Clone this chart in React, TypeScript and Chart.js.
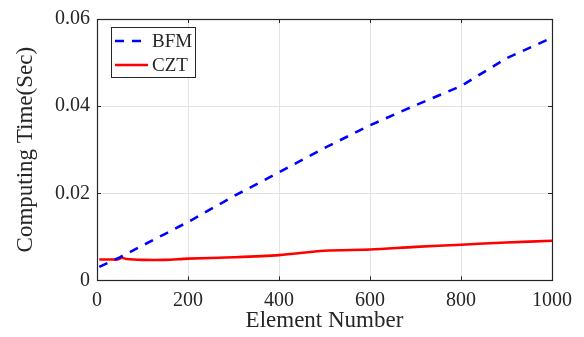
import { useEffect, useRef } from 'react';
import { Chart, registerables } from 'chart.js';

Chart.register(...registerables);

const bfmElements = [5, 50, 100, 150, 200, 300, 400, 500, 600, 700, 800, 900, 1000];
const bfmTimes = [0.0031, 0.0053, 0.0080, 0.0107, 0.0134, 0.0193, 0.0248, 0.0304, 0.0356, 0.0402, 0.0446, 0.0510, 0.0557];
const cztElements = [5, 30, 45, 55, 65, 100, 150, 200, 300, 400, 500, 600, 700, 800, 900, 1000];
const cztTimes = [0.0048, 0.0048, 0.0048, 0.0052, 0.0049, 0.0047, 0.0047, 0.0050, 0.0053, 0.0058, 0.0068, 0.0071, 0.0077, 0.0082, 0.0087, 0.0091];
const xTicks = [0, 200, 400, 600, 800, 1000];
const yTicks = [0, 0.02, 0.04, 0.06];
const seriesLabels = ['BFM', 'CZT'];
const xTitle = 'Element Number';
const yTitle = 'Computing Time(Sec)';

const FONT = '"Liberation Serif", "Times New Roman", serif';
const TEXT = '#262626';

const framePlugin = {
  id: 'frameAndLegend',
  afterDraw(chart: any) {
    const { ctx, chartArea } = chart;
    const { left, right, top, bottom } = chartArea;
    ctx.save();
    // inner ticks
    ctx.strokeStyle = TEXT;
    ctx.lineWidth = 1;
    const xs = chart.scales.x;
    const ys = chart.scales.y;
    ctx.beginPath();
    xTicks.forEach((v) => {
      const px = Math.round(xs.getPixelForValue(v)) + 0.5;
      ctx.moveTo(px, bottom);
      ctx.lineTo(px, bottom - 4);
      ctx.moveTo(px, top);
      ctx.lineTo(px, top + 4);
    });
    yTicks.forEach((v) => {
      const py = Math.round(ys.getPixelForValue(v)) + 0.5;
      ctx.moveTo(left, py);
      ctx.lineTo(left + 4, py);
      ctx.moveTo(right, py);
      ctx.lineTo(right - 4, py);
    });
    ctx.stroke();
    // frame
    ctx.strokeStyle = TEXT;
    ctx.lineWidth = 1.2;
    ctx.strokeRect(Math.round(left) + 0.5, Math.round(top) + 0.5, Math.round(right - left), Math.round(bottom - top));

    // legend
    const bx = left + 14;
    const by = top + 8;
    const bw = 84;
    const bh = 50;
    ctx.fillStyle = '#ffffff';
    ctx.fillRect(bx, by, bw, bh);
    ctx.strokeStyle = TEXT;
    ctx.lineWidth = 1;
    ctx.strokeRect(Math.round(bx) + 0.5, Math.round(by) + 0.5, bw, bh);
    ctx.font = `19px ${FONT}`;
    ctx.textBaseline = 'middle';
    ctx.textAlign = 'left';
    chart.data.datasets.forEach((ds: any, i: number) => {
      const ly = by + 14 + i * 24;
      ctx.strokeStyle = ds.borderColor;
      ctx.lineWidth = ds.borderWidth;
      ctx.setLineDash(ds.borderDash || []);
      ctx.beginPath();
      ctx.moveTo(bx + 4, ly);
      ctx.lineTo(bx + 37, ly);
      ctx.stroke();
      ctx.setLineDash([]);
      ctx.fillStyle = TEXT;
      ctx.fillText(ds.label, bx + 41, ly + 1);
    });
    ctx.restore();
  },
};

export default function App() {
  const canvasRef = useRef<HTMLCanvasElement | null>(null);

  useEffect(() => {
    const canvas = canvasRef.current;
    if (!canvas) return;
    const chart = new Chart(canvas, {
      type: 'line',
      data: {
        datasets: [
          {
            label: seriesLabels[0],
            data: bfmElements.map((x, i) => ({ x, y: bfmTimes[i] })),
            borderColor: '#0000ff',
            borderWidth: 2.6,
            borderDash: [9, 8],
            pointRadius: 0,
            fill: false,
            tension: 0,
          },
          {
            label: seriesLabels[1],
            data: cztElements.map((x, i) => ({ x, y: cztTimes[i] })),
            borderColor: '#ff0000',
            borderWidth: 2.6,
            pointRadius: 0,
            fill: false,
            tension: 0.3,
          },
        ],
      },
      options: {
        animation: false,
        responsive: false,
        devicePixelRatio: 1,
        layout: { padding: { left: 0, right: 32, top: 16, bottom: 0 } },
        plugins: { legend: { display: false }, tooltip: { enabled: false } },
        scales: {
          x: {
            type: 'linear',
            min: 0,
            max: 1000,
            afterBuildTicks: (s: any) => {
              s.ticks = xTicks.map((value) => ({ value }));
            },
            afterFit: (s: any) => {
              s.height = 56.6;
            },
            grid: { color: '#e3e3e3', drawTicks: false, lineWidth: 1 },
            border: { display: false },
            ticks: {
              padding: 8,
              color: TEXT,
              font: { family: FONT, size: 20 },
              maxRotation: 0,
              callback: (v: any) => String(v),
            },
            title: {
              display: true,
              text: xTitle,
              color: TEXT,
              font: { family: FONT, size: 23 },
              padding: { top: 0, bottom: 2 },
            },
          },
          y: {
            type: 'linear',
            min: 0,
            max: 0.06,
            afterBuildTicks: (s: any) => {
              s.ticks = yTicks.map((value) => ({ value }));
            },
            afterFit: (s: any) => {
              s.width = 97;
            },
            grid: { color: '#e3e3e3', drawTicks: false, lineWidth: 1 },
            border: { display: false },
            ticks: {
              padding: 7,
              color: TEXT,
              font: { family: FONT, size: 20 },
              callback: (v: any) => (v === 0 ? '0' : Number(v).toFixed(2)),
            },
            title: {
              display: true,
              text: yTitle,
              color: TEXT,
              font: { family: FONT, size: 23 },
              padding: { top: 12, bottom: 0 },
            },
          },
        },
      },
      plugins: [framePlugin],
    });
    return () => chart.destroy();
  }, []);

  return (
    <div style={{ position: 'absolute', left: 0, top: 0, width: 584, height: 337, background: '#ffffff' }}>
      <canvas ref={canvasRef} width={584} height={337} />
    </div>
  );
}
